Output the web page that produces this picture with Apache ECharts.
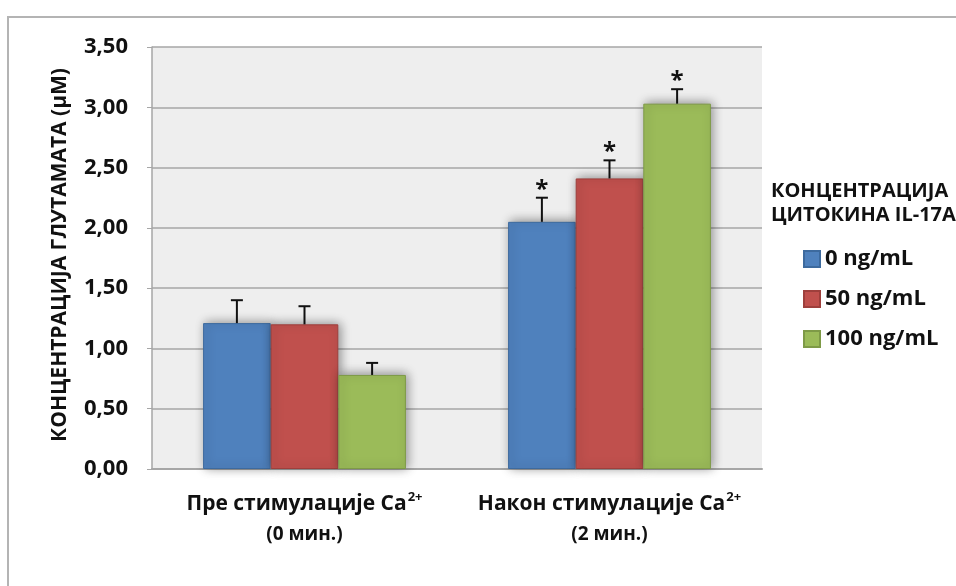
<!DOCTYPE html>
<html>
<head>
<meta charset="utf-8">
<script src="https://cdn.jsdelivr.net/npm/echarts@6/dist/echarts.min.js"></script>
<style>html,body{margin:0;padding:0;background:#fff;}#c{width:956px;height:586px;}</style>
</head>
<body>
<div id="c"></div>
<script>
const categories = ['Пре стимулације Ca', 'Након стимулације Ca'];
const categorySup = ['2+', '2+'];
const categoryTime = ['(0 мин.)', '(2 мин.)'];
const seriesNames = ['0 ng/mL', '50 ng/mL', '100 ng/mL'];
const values0 = [1.21, 2.05];
const values50 = [1.20, 2.41];
const values100 = [0.78, 3.03];
const err0 = [0.19, 0.20];
const err50 = [0.15, 0.15];
const err100 = [0.10, 0.12];
const star0 = [false, true];
const star50 = [false, true];
const star100 = [false, true];
const yAxisName = 'КОНЦЕНТРАЦИЈА ГЛУТАМАТА (µM)';
const legendTitle = 'КОНЦЕНТРАЦИЈА\nЦИТОКИНА IL-17A';

const colors = ['#4f81bd', '#c0504d', '#9bbb59'];
const borders = ['#3d6a9e', '#9e3f3c', '#7e9a47'];
const allValues = [values0, values50, values100];
const allErr = [err0, err50, err100];
const allStar = [star0, star50, star100];
const FONT = '"Open Sans", "Noto Sans", sans-serif';
const catGap = 0.335;

const chart = echarts.init(document.getElementById('c'), null, {renderer: 'canvas'});

const barSeries = seriesNames.map((name, i) => ({
  type: 'bar',
  name: name,
  data: allValues[i],
  barGap: '0%',
  barCategoryGap: (catGap * 100) + '%',
  itemStyle: {
    color: colors[i],
    borderColor: borders[i],
    borderWidth: 1,
    shadowColor: 'rgba(0,0,0,0.4)',
    shadowBlur: 10,
    shadowOffsetX: 2,
    shadowOffsetY: -1
  },
  z: 2
}));

const errSeries = seriesNames.map((name, i) => ({
  type: 'custom',
  name: name + '_err',
  z: 3,
  silent: true,
  data: allValues[i].map((v, k) => [k, v, allErr[i][k], allStar[i][k] ? 1 : 0]),
  renderItem: function (params, api) {
    const k = api.value(0);
    const v = api.value(1);
    const e = api.value(2);
    const star = api.value(3);
    const band = api.size([1, 0])[0];
    const bw = band * (1 - catGap) / 3;
    const base = api.coord([k, v]);
    const top = api.coord([k, v + e]);
    const x = base[0] + (i - 1) * bw;
    const children = [
      {type: 'line', shape: {x1: x, y1: base[1], x2: x, y2: top[1]}, style: {stroke: '#111', lineWidth: 2}},
      {type: 'line', shape: {x1: x - 6, y1: top[1], x2: x + 6, y2: top[1]}, style: {stroke: '#111', lineWidth: 2}}
    ];
    if (star) {
      children.push({type: 'text', x: x, y: top[1] + 4, style: {text: '*', fill: '#111', font: 'bold 24px ' + FONT, align: 'center', verticalAlign: 'bottom'}});
    }
    return {type: 'group', children: children};
  }
}));

chart.setOption({
  animation: false,
  backgroundColor: '#ffffff',
  graphic: [{
    type: 'rect', shape: {x: 8, y: 17, width: 1100, height: 700},
    style: {fill: 'none', stroke: '#b4b4b4', lineWidth: 2}, z: -10
  }, {
    type: 'text', x: 60, y: 255, rotation: Math.PI / 2,
    style: {text: yAxisName, font: 'bold 21px ' + FONT, fill: '#111', align: 'center', verticalAlign: 'middle'}
  }],
  title: {
    text: legendTitle,
    left: 766, top: 174,
    textStyle: {fontFamily: FONT, fontSize: 20, fontWeight: 'bold', color: '#111', lineHeight: 24}
  },
  legend: {
    orient: 'vertical',
    left: 798, top: 242,
    itemWidth: 16, itemHeight: 16, itemGap: 16,
    icon: 'rect',
    data: seriesNames,
    textStyle: {fontFamily: FONT, fontSize: 22, fontWeight: 'bold', color: '#111', padding: [0, 0, 0, 0], lineHeight: 24}
  },
  grid: {
    left: 152, right: 194, top: 47, bottom: 117,
    show: true, backgroundColor: '#eeeeee', borderWidth: 0
  },
  xAxis: {
    type: 'category',
    data: categories,
    axisLine: {show: true, lineStyle: {color: '#a6a6a6', width: 2}},
    axisTick: {show: false},
    axisLabel: {
      margin: 22,
      formatter: function (val, idx) {
        return '{a|' + val + '}{s|' + categorySup[idx] + '}\n{b|' + categoryTime[idx] + '}';
      },
      rich: {
        a: {fontFamily: FONT, fontSize: 21, fontWeight: 'bold', color: '#111', lineHeight: 27},
        s: {fontFamily: FONT, fontSize: 13, fontWeight: 'bold', color: '#111', verticalAlign: 'top', padding: [0, 0, 14, 1], lineHeight: 27},
        b: {fontFamily: FONT, fontSize: 19, fontWeight: 'bold', color: '#111', lineHeight: 33}
      }
    }
  },
  yAxis: {
    type: 'value',
    min: 0, max: 3.5, interval: 0.5,
    axisLine: {show: true, lineStyle: {color: '#a6a6a6', width: 1.5}},
    axisTick: {show: true, length: 5, lineStyle: {color: '#a6a6a6'}},
    axisLabel: {
      margin: 24,
      fontFamily: FONT, fontSize: 22, fontWeight: 'bold', color: '#111',
      formatter: v => v.toFixed(2).replace('.', ',')
    },
    splitLine: {lineStyle: {color: '#a6a6a6', width: 1.5}}
  },
  series: barSeries.concat(errSeries)
});
</script>
</body>
</html>
